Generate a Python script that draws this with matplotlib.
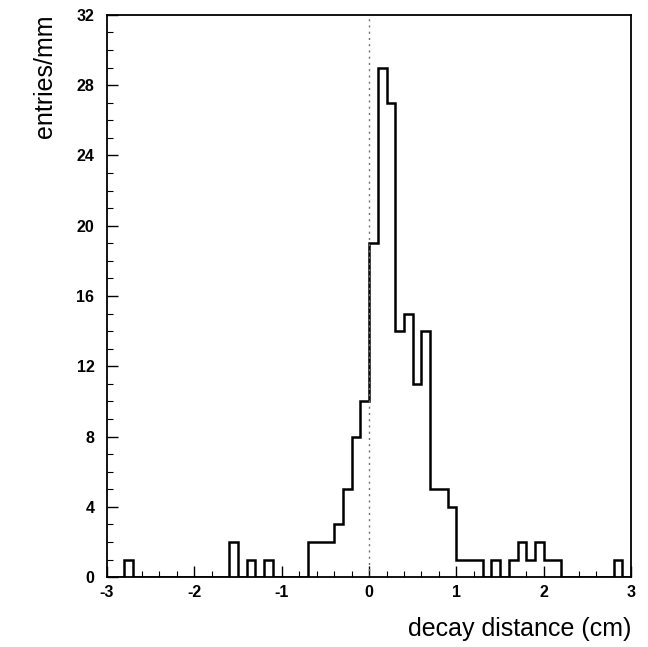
import numpy as np
import matplotlib
matplotlib.use("Agg")
import matplotlib.pyplot as plt

plt.rcParams['font.family'] = ['Liberation Sans', 'DejaVu Sans']

# bin edges in cm (1 mm bins) and entries per bin
edges = np.round(np.arange(-3.0, 3.0001, 0.1), 2)
counts = [0, 0, 1, 0, 0, 0, 0, 0, 0, 0,      # -3.0 .. -2.1
          0, 0, 0, 0, 2, 0, 1, 0, 1, 0,      # -2.0 .. -1.1
          0, 0, 0, 2, 2, 2, 3, 5, 8, 10,     # -1.0 .. -0.1
          19, 29, 27, 14, 15, 11, 14, 5, 5, 4,  # 0.0 .. 0.9
          1, 1, 1, 0, 1, 0, 1, 2, 1, 2,      # 1.0 .. 1.9
          1, 1, 0, 0, 0, 0, 0, 0, 1, 0]      # 2.0 .. 2.9

xticks = [-3, -2, -1, 0, 1, 2, 3]
yticks = [0, 4, 8, 12, 16, 20, 24, 28, 32]

fig = plt.figure(figsize=(6.48, 6.47), dpi=100)
ax = fig.add_axes([0.165, 0.108, 0.809, 0.869])

ax.stairs(counts, edges, color='black', lw=1.8)
ax.axvline(0, color='0.45', lw=1.0, ls=(0, (1.5, 3)))

ax.set_xlim(-3, 3)
ax.set_ylim(0, 32)
ax.set_xticks(xticks)
ax.set_xticklabels([str(t) for t in xticks])
ax.set_yticks(yticks)
ax.set_yticklabels([str(t) for t in yticks])
ax.set_xticks(np.arange(-3, 3.01, 0.2), minor=True)
ax.set_yticks(np.arange(0, 32.1, 1), minor=True)
ax.tick_params(which='major', direction='in', length=8, width=1.0, labelsize=11.5)
ax.tick_params(axis='y', which='major', pad=9)
ax.tick_params(axis='x', which='major', pad=6)
ax.tick_params(which='minor', direction='in', length=4, width=0.8)
for lab in ax.get_xticklabels() + ax.get_yticklabels():
    lab.set_fontweight('semibold')
for s in ax.spines.values():
    s.set_linewidth(1.3)

ax.set_xlabel('decay distance (cm)', fontsize=18, loc='right', labelpad=12)
ax.set_ylabel('entries/mm', fontsize=18, loc='top', labelpad=14)

fig.savefig('out.png', dpi=100)
